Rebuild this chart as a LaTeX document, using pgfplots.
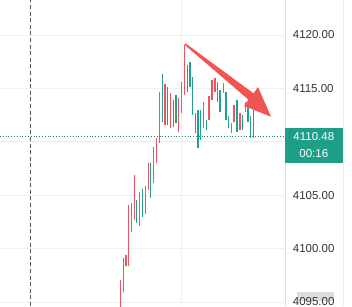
\documentclass[border=0pt]{standalone}
\usepackage{pgfplots}
\pgfplotsset{compat=1.18}
\usepackage{pgfplotstable}
\usepackage{fontspec}
\setmainfont{Liberation Sans}
\definecolor{cred}{RGB}{236,84,96}
\definecolor{cgreen}{RGB}{34,160,140}
\definecolor{cbox}{RGB}{30,158,134}
\definecolor{carrow}{RGB}{242,84,84}
\definecolor{cgrid}{RGB}{240,240,240}

\pgfplotstableread{
x lo hi
120.7 4094.00 4097.06
123.5 4095.94 4099.12
126.0 4098.37 4099.40
128.3 4098.37 4104.08
131.2 4101.55 4104.27
134.3 4102.68 4106.89
139.3 4102.12 4105.30
145.2 4103.24 4105.86
148.3 4105.49 4108.02
153.5 4106.14 4109.51
156.5 4108.02 4110.36
159.3 4109.89 4114.66
165.0 4111.57 4115.38
170.3 4111.26 4114.54
178.7 4110.95 4114.07
181.3 4112.67 4115.63
184.7 4114.38 4119.06
203.3 4111.26 4113.75
209.0 4112.04 4114.29
212.0 4113.91 4115.79
215.0 4114.69 4115.95
223.3 4114.54 4115.48
231.3 4110.85 4111.73
234.0 4111.88 4113.45
240.0 4111.10 4112.67
245.3 4112.82 4113.75
}\redbars

\pgfplotstableread{
x lo hi
136.7 4102.40 4104.55
142.3 4102.96 4105.58
150.5 4104.74 4108.02
162.3 4111.88 4116.32
167.7 4111.57 4115.16
173.3 4111.41 4113.91
176.0 4111.73 4114.38
187.3 4114.69 4117.19
190.0 4115.16 4117.50
192.7 4112.51 4116.10
195.3 4110.80 4112.67
198.0 4109.39 4112.98
200.7 4110.17 4112.98
206.3 4111.10 4112.04
217.3 4113.75 4115.63
220.0 4112.82 4114.85
226.0 4112.04 4114.69
228.7 4111.26 4112.42
237.0 4110.95 4113.91
242.7 4111.10 4112.51
248.0 4111.88 4113.29
250.7 4110.38 4112.42
253.3 4110.33 4112.98
}\greenbars

\pgfplotstableread{
x y
0 4110.48
285 4110.48
}\lastline

\begin{document}
\begin{tikzpicture}[x=1pt,y=1pt]
% faint smear behind bottom label
\fill[black!14] (297,5.5) rectangle (334,14);
\begin{axis}[
  at={(0,0)}, anchor=south west,
  width=285pt, height=306pt, scale only axis,
  xmin=0, xmax=285, ymin=4094.625, ymax=4123.277,
  axis line style={draw=none},
  major tick style={draw=none},
  xtick={30,181}, xticklabels={},
  ytick={4095,4100,4105,4115,4120},
  extra y ticks={4110}, extra y tick labels={},
  extra y tick style={grid=major, major tick style={draw=none}},
  yticklabel pos=right,
  yticklabel style={anchor=west, inner sep=0pt, xshift=7.7pt, font=\fontsize{11.5}{13}\selectfont, text=black!80,
    /pgf/number format/.cd, fixed, fixed zerofill, precision=2, 1000 sep={}, assume math mode=true},
  grid=major,
  major grid style={draw=cgrid, line width=0.8pt},
  clip=true,
]
\addplot[dash pattern=on 4pt off 2.6pt, draw=black!65, line width=0.8pt] coordinates {(30,4094.625) (30,4123.277)};
\addplot[cgreen!80!black, line width=0.8pt, dash pattern=on 0.8pt off 2pt] table[x=x,y=y] {\lastline};
\addplot[draw=none, mark=none,
  error bars/.cd, y dir=plus, y explicit, error mark=none,
  error bar style={draw=cred, line width=1.3pt}]
  table[x=x, y=lo, y error plus expr=\thisrow{hi}-\thisrow{lo}] {\redbars};
\addplot[draw=none, mark=none,
  error bars/.cd, y dir=plus, y explicit, error mark=none,
  error bar style={draw=cgreen, line width=1.3pt}]
  table[x=x, y=lo, y error plus expr=\thisrow{hi}-\thisrow{lo}] {\greenbars};
\end{axis}
% right price-scale borders
\draw[black!12, line width=0.8pt] (285,0) -- (285,306);
\draw[black!8, line width=0.8pt] (343,0) -- (343,306);
% last price box
\fill[cbox] (285,142.7) rectangle (342.7,178.3);
\node[text=white, font=\fontsize{11.5}{13}\selectfont, inner sep=0pt] at (313.8,169.3) {4110.48};
\node[text=white, font=\fontsize{11.5}{13}\selectfont, inner sep=0pt] at (313.8,152) {00:16};
% red arrow
\fill[carrow] (185.6,262.6) -- (184.4,261.4) -- (248.4,206.4) -- (244,200) -- (271,189.3) -- (258,219) -- (253.6,212.6) -- cycle;
\pgfresetboundingbox
\path[use as bounding box] (0,0) rectangle (352,306);
\end{tikzpicture}
\end{document}
